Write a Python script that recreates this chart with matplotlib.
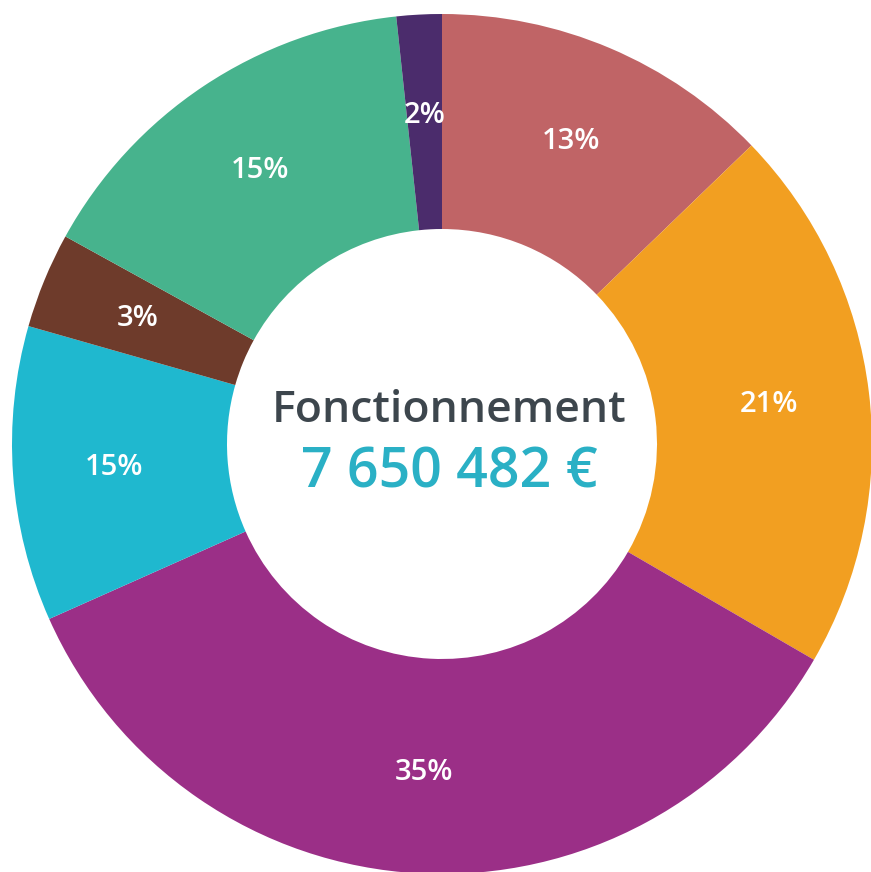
import matplotlib
matplotlib.use('Agg')
import matplotlib.pyplot as plt

# parts du budget de fonctionnement (sens horaire depuis midi)
parts = [12.8, 20.6, 35.0, 11.1, 3.6, 15.3, 1.7]
etiquettes = ['13%', '21%', '35%', '15%', '3%', '15%', '2%']
couleurs = ['#c06466', '#f29f21', '#9b2f87', '#1fb8cf', '#6e3b2b', '#47b38d', '#4b2c6c']

titre = 'Fonctionnement'
montant = '7 650 482 €'

W, H = 871, 872
cx, cy = 442, 444
R = 430

fig = plt.figure(figsize=(W / 100, H / 100), dpi=100)
ax = fig.add_axes([0, 0, 1, 1])
ax.axis('off')

wedges, textes = ax.pie(parts, labels=etiquettes, colors=couleurs, radius=R,
                        startangle=90, counterclock=False, labeldistance=0.765,
                        wedgeprops=dict(width=R - 215, linewidth=0),
                        textprops=dict(color='white', fontsize=21, family='Open Sans',
                                       fontweight='semibold', ha='center', va='center'))
ax.set_xlim(-cx, W - cx)
ax.set_ylim(-(H - cy), cy)

ax.text(7, 22, titre, ha='center', va='baseline', fontsize=32, family='Open Sans',
        fontweight='semibold', color='#3d464d')
ax.text(7, -43, montant, ha='center', va='baseline', fontsize=40, family='Open Sans',
        fontweight='semibold', color='#2ab0c5')

fig.savefig('out.png', dpi=100)
